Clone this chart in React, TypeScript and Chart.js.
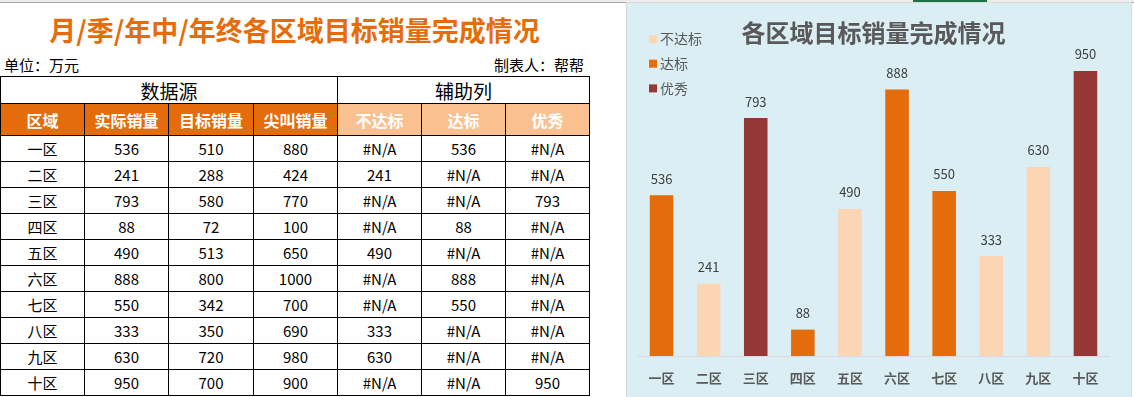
import React, { useEffect, useRef } from "react";
import { Chart, registerables } from "chart.js";

Chart.register(...registerables);

// ---------- data ----------
const regions = ["一区", "二区", "三区", "四区", "五区", "六区", "七区", "八区", "九区", "十区"];
const actualSales = [536, 241, 793, 88, 490, 888, 550, 333, 630, 950];
const targetSales = [510, 288, 580, 72, 513, 800, 342, 350, 720, 700];
const stretchSales = [880, 424, 770, 100, 650, 1000, 700, 690, 980, 900];
const belowTarget: (number | null)[] = [null, 241, null, null, 490, null, null, 333, 630, null];
const metTarget: (number | null)[] = [536, null, null, 88, null, 888, 550, null, null, null];
const excellent: (number | null)[] = [null, null, 793, null, null, null, null, null, null, 950];
const seriesNames = ["不达标", "达标", "优秀"];
const dataHeaders = ["区域", "实际销量", "目标销量", "尖叫销量"];
const groupHeaders = ["数据源", "辅助列"];
const sheetTitle = "月/季/年中/年终各区域目标销量完成情况";
const chartTitle = "各区域目标销量完成情况";
const unitText = "单位：万元";
const authorText = "制表人：帮帮";

const FONT = "'Noto Sans CJK SC', 'Noto Sans', sans-serif";
const seriesColors = ["#FCD5B5", "#E46C0A", "#953735"];

// ---------- table layout ----------
const colEdges = [0, 84, 168, 253, 337, 421, 505, 589];
const rowEdges = [76, 103, 135];
for (let i = 1; i <= regions.length; i++) rowEdges.push(135 + i * 26);

function Cell(props: {
  x0: number; x1: number; y0: number; y1: number;
  bg?: string; color?: string; size?: number; bold?: boolean; children?: React.ReactNode;
}) {
  const { x0, x1, y0, y1, bg, color, size, bold, children } = props;
  return (
    <div
      style={{
        position: "absolute",
        left: x0,
        top: y0,
        width: x1 - x0 + 1,
        height: y1 - y0 + 1,
        boxSizing: "border-box",
        border: "1px solid #000",
        background: bg || "#fff",
        color: color || "#000",
        fontSize: size || 15,
        fontWeight: bold ? 700 : 400,
        display: "flex",
        alignItems: "center",
        justifyContent: "center",
        whiteSpace: "nowrap",
      }}
    >
      {children}
    </div>
  );
}

const fmt = (v: number | null) => (v === null ? "#N/A" : String(v));

const legendPlugin = {
  id: "sideLegend",
  afterDraw(chart: any) {
    const ctx = chart.ctx;
    ctx.save();
    chart.data.datasets.forEach((ds: any, i: number) => {
      const cy = 36 + i * 24.7;
      ctx.fillStyle = ds.backgroundColor;
      ctx.fillRect(22, cy - 4, 8, 8);
      ctx.fillStyle = "#595959";
      ctx.font = `14px ${FONT}`;
      ctx.textAlign = "left";
      ctx.textBaseline = "middle";
      ctx.fillText(ds.label, 33, cy);
    });
    ctx.restore();
  },
};

const valueLabelPlugin = {
  id: "valueLabels",
  afterDatasetsDraw(chart: any) {
    const ctx = chart.ctx;
    ctx.save();
    ctx.font = `13px ${FONT}`;
    ctx.fillStyle = "#404040";
    ctx.textAlign = "center";
    ctx.textBaseline = "middle";
    chart.data.datasets.forEach((ds: any, di: number) => {
      const meta = chart.getDatasetMeta(di);
      meta.data.forEach((el: any, i: number) => {
        const v = ds.data[i];
        if (v === null || v === undefined) return;
        ctx.fillText(String(v), el.x, el.y - 16.5);
      });
    });
    ctx.restore();
  },
};

export default function App() {
  const canvasRef = useRef<HTMLCanvasElement | null>(null);

  useEffect(() => {
    if (!canvasRef.current) return;
    const chart = new Chart(canvasRef.current, {
      type: "bar",
      data: {
        labels: regions,
        datasets: [
          { label: seriesNames[0], data: belowTarget, backgroundColor: seriesColors[0] },
          { label: seriesNames[1], data: metTarget, backgroundColor: seriesColors[1] },
          { label: seriesNames[2], data: excellent, backgroundColor: seriesColors[2] },
        ],
      },
      options: {
        animation: false,
        responsive: false,
        maintainAspectRatio: false,
        layout: { padding: { left: 11, right: 22, top: 0, bottom: 1.4 } },
        datasets: { bar: { categoryPercentage: 1, barPercentage: 0.5 } },
        scales: {
          x: {
            stacked: true,
            grid: { display: false, drawTicks: false },
            border: { display: true, color: "#D9D9D9", width: 1 },
            ticks: { padding: 14, color: "#595959", font: { family: FONT, size: 13, weight: "bold" } },
          },
          y: { stacked: true, display: false, min: 0, max: 1000 },
        },
        plugins: {
          legend: { display: false },
          tooltip: { enabled: false },
          title: {
            display: true,
            text: chartTitle,
            color: "#595959",
            font: { family: FONT, size: 24, weight: "bold" },
            padding: { top: 15, bottom: 9.2 },
          },
        },
      } as any,
      plugins: [legendPlugin, valueLabelPlugin],
    });
    return () => chart.destroy();
  }, []);

  const bodyCols: (number | null)[][] = [actualSales, targetSales, stretchSales, belowTarget, metTarget, excellent];

  return (
    <div
      style={{
        position: "fixed",
        left: 0,
        top: 0,
        width: 1134,
        height: 397,
        background: "#fff",
        overflow: "hidden",
        fontFamily: FONT,
      }}
    >
      {/* sheet header strip */}
      <div style={{ position: "absolute", left: 0, top: 0, width: 1134, height: 3, background: "#EDEDED", borderBottom: "1px solid #A6A6A6", boxSizing: "border-box" }} />
      <div style={{ position: "absolute", left: 913, top: 0, width: 74, height: 2, background: "#217346" }} />

      {/* sheet title */}
      <div style={{ position: "absolute", left: 0, top: 13, width: 589, height: 34, lineHeight: "34px", textAlign: "center", fontSize: 27, fontWeight: 700, color: "#E46C0A", whiteSpace: "nowrap" }}>
        {sheetTitle}
      </div>
      <div style={{ position: "absolute", left: 4, top: 56, height: 18, lineHeight: "18px", fontSize: 15, color: "#000" }}>{unitText}</div>
      <div style={{ position: "absolute", left: 0, width: 584, top: 56, height: 18, lineHeight: "18px", fontSize: 15, color: "#000", textAlign: "right" }}>{authorText}</div>

      {/* group header row */}
      <Cell x0={colEdges[0]} x1={colEdges[4]} y0={rowEdges[0]} y1={rowEdges[1]} size={19}>{groupHeaders[0]}</Cell>
      <Cell x0={colEdges[4]} x1={colEdges[7]} y0={rowEdges[0]} y1={rowEdges[1]} size={19}>{groupHeaders[1]}</Cell>

      {/* column header row */}
      {[...dataHeaders, ...seriesNames].map((h, c) => (
        <Cell key={"h" + c} x0={colEdges[c]} x1={colEdges[c + 1]} y0={rowEdges[1]} y1={rowEdges[2]} bg={c < 4 ? "#E46C0A" : "#FAC090"} color="#fff" size={16} bold>
          {h}
        </Cell>
      ))}

      {/* body rows */}
      {regions.map((r, i) => (
        <React.Fragment key={"r" + i}>
          <Cell x0={colEdges[0]} x1={colEdges[1]} y0={rowEdges[2 + i]} y1={rowEdges[3 + i]}>{r}</Cell>
          {bodyCols.map((col, c) => (
            <Cell key={"c" + c} x0={colEdges[c + 1]} x1={colEdges[c + 2]} y0={rowEdges[2 + i]} y1={rowEdges[3 + i]}>
              {fmt(col[i])}
            </Cell>
          ))}
        </React.Fragment>
      ))}

      {/* chart */}
      <div style={{ position: "absolute", left: 626, top: 2, width: 506, height: 396, boxSizing: "border-box", border: "1px solid #D9D9D9", background: "#DAEEF3", overflow: "hidden" }}>
        <canvas ref={canvasRef} width={504} height={398} style={{ display: "block", width: 504, height: 398 }} />
      </div>
    </div>
  );
}
